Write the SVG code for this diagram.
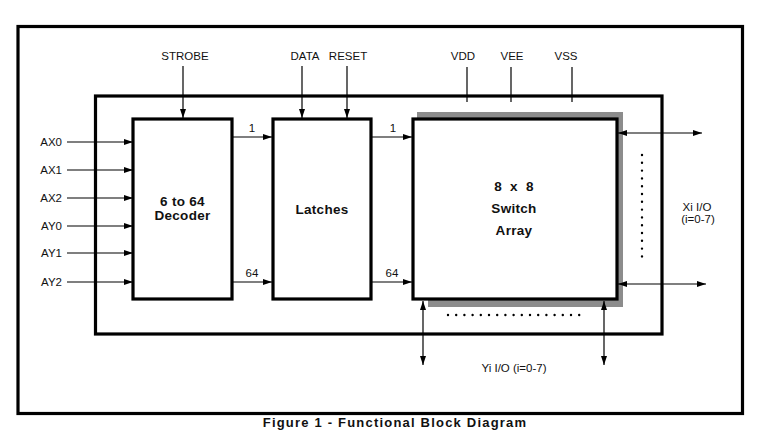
<svg xmlns="http://www.w3.org/2000/svg" width="765" height="440" viewBox="0 0 765 440">
<style>
.lbl{font-family:"Liberation Sans",Arial,sans-serif;font-size:11.5px;fill:#111}
.bold{font-family:"Liberation Sans",Arial,sans-serif;font-size:13.5px;font-weight:bold;fill:#111;letter-spacing:0.3px}
.frame{fill:none;stroke:#000;stroke-width:3.2}
.box{fill:#fff;stroke:#000;stroke-width:3.2}
.ln{stroke:#000;stroke-width:1.2;fill:none}
.arr{stroke:#000;stroke-width:1.2;fill:none;marker-end:url(#ah)}
.dbl{stroke:#000;stroke-width:1.2;fill:none;marker-end:url(#ah);marker-start:url(#ahs)}
.dots{stroke:#000;stroke-width:2.4;stroke-linecap:round;fill:none}
</style>
<defs>
<marker id="ah" markerUnits="userSpaceOnUse" markerWidth="10" markerHeight="8" refX="9" refY="3" orient="auto"><path d="M0,0 L9,3 L0,6 Z" fill="#000"/></marker>
<marker id="ahs" markerUnits="userSpaceOnUse" markerWidth="10" markerHeight="8" refX="9" refY="3" orient="auto-start-reverse"><path d="M0,0 L9,3 L0,6 Z" fill="#000"/></marker>
</defs>
<rect width="765" height="440" fill="#fff"/>
<g id="outer-frame"><rect class="frame" x="18" y="26.5" width="724.5" height="387"/></g>
<g id="inner-frame"><rect class="frame" x="95.5" y="96" width="566.5" height="238"/></g>

<g id="decoder">
<rect class="box" x="133" y="119" width="99" height="180"/>
<text class="bold" x="182.5" y="206" text-anchor="middle">6 to 64</text>
<text class="bold" x="182.5" y="220" text-anchor="middle">Decoder</text>
</g>
<g id="latches">
<rect class="box" x="273" y="119" width="98" height="180"/>
<text class="bold" x="322" y="214" text-anchor="middle">Latches</text>
</g>
<g id="switch-array">
<path d="M417,112 H623 V307 H428 V299 H417 Z" fill="#8c8c8c"/>
<rect class="box" x="413" y="119" width="204" height="180"/>
<text class="bold" x="514" y="191" text-anchor="middle" xml:space="preserve">8  x  8</text>
<text class="bold" x="514" y="213" text-anchor="middle">Switch</text>
<text class="bold" x="514" y="235" text-anchor="middle">Array</text>
</g>

<g id="labels">
<text class="lbl" x="62" y="146" text-anchor="end">AX0</text>
<text class="lbl" x="62" y="174" text-anchor="end">AX1</text>
<text class="lbl" x="62" y="202" text-anchor="end">AX2</text>
<text class="lbl" x="62" y="230" text-anchor="end">AY0</text>
<text class="lbl" x="62" y="257" text-anchor="end">AY1</text>
<text class="lbl" x="62" y="286" text-anchor="end">AY2</text>
<text class="lbl" x="185" y="60" text-anchor="middle">STROBE</text>
<text class="lbl" x="305" y="60" text-anchor="middle">DATA</text>
<text class="lbl" x="348" y="60" text-anchor="middle">RESET</text>
<text class="lbl" x="463" y="60" text-anchor="middle">VDD</text>
<text class="lbl" x="512" y="60" text-anchor="middle">VEE</text>
<text class="lbl" x="566" y="60" text-anchor="middle">VSS</text>
<text class="lbl" x="252" y="132" text-anchor="middle">1</text>
<text class="lbl" x="393" y="132" text-anchor="middle">1</text>
<text class="lbl" x="252" y="277" text-anchor="middle">64</text>
<text class="lbl" x="392" y="277" text-anchor="middle">64</text>
<text class="lbl" x="697" y="211" text-anchor="middle">Xi I/O</text>
<text class="lbl" x="698" y="223" text-anchor="middle">(i=0-7)</text>
<text class="lbl" x="514" y="372" text-anchor="middle">Yi I/O (i=0-7)</text>
</g>

<g id="connectors">
<line class="arr" x1="67" y1="142" x2="133" y2="142"/>
<line class="arr" x1="67" y1="170" x2="133" y2="170"/>
<line class="arr" x1="67" y1="198" x2="133" y2="198"/>
<line class="arr" x1="67" y1="226" x2="133" y2="226"/>
<line class="arr" x1="67" y1="253" x2="133" y2="253"/>
<line class="arr" x1="67" y1="282" x2="133" y2="282"/>
<line class="arr" x1="183" y1="66" x2="183" y2="118"/>
<line class="arr" x1="302" y1="66" x2="302" y2="118"/>
<line class="arr" x1="347" y1="66" x2="347" y2="118"/>
<line class="arr" x1="232" y1="137" x2="272" y2="137"/>
<line class="arr" x1="371" y1="137" x2="412" y2="137"/>
<line class="arr" x1="232" y1="282" x2="272" y2="282"/>
<line class="arr" x1="371" y1="282" x2="412" y2="282"/>
<line class="ln" x1="467" y1="67" x2="467" y2="102"/>
<line class="ln" x1="511" y1="67" x2="511" y2="102"/>
<line class="ln" x1="572" y1="67" x2="572" y2="102"/>
<line class="dbl" x1="618" y1="133" x2="702" y2="133"/>
<line class="dbl" x1="618" y1="284" x2="706" y2="284"/>
<line class="dbl" x1="423" y1="301" x2="423" y2="365"/>
<line class="dbl" x1="604" y1="301" x2="604" y2="365"/>
<line class="dots" x1="642" y1="155" x2="642" y2="264" stroke-dasharray="0 7.8"/>
<line class="dots" x1="448" y1="315" x2="580" y2="315" stroke-dasharray="0 8.2"/>
</g>

<g id="caption">
<text class="bold" x="395" y="427" text-anchor="middle" style="font-size:13px;letter-spacing:1.2px">Figure 1 - Functional Block Diagram</text>
</g>
</svg>
